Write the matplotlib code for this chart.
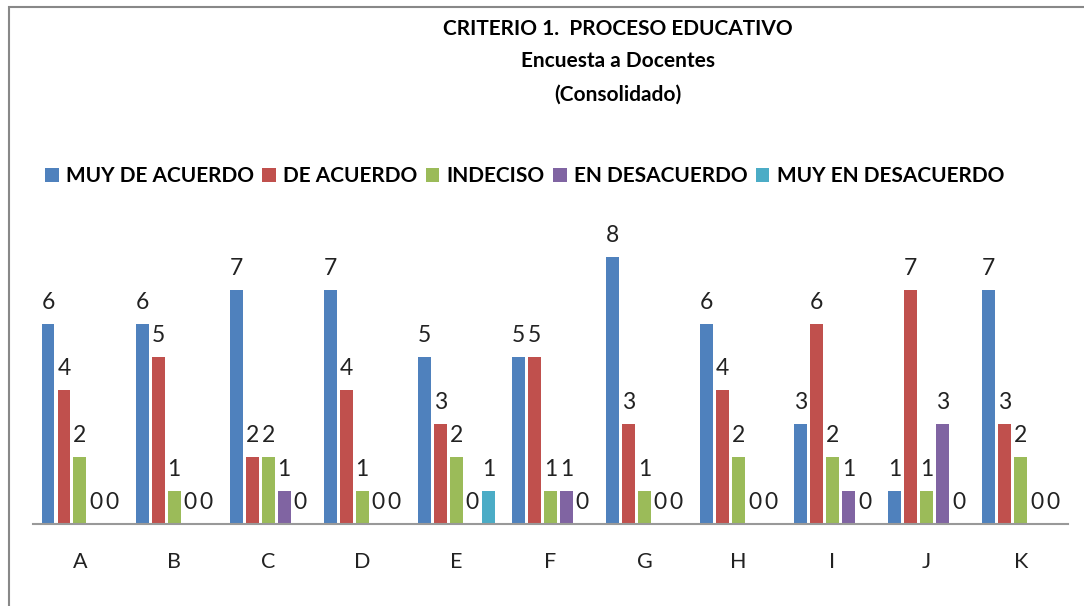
import numpy as np
import matplotlib
matplotlib.use("Agg")
import matplotlib.pyplot as plt
from matplotlib.patches import Rectangle

categories = ['A', 'B', 'C', 'D', 'E', 'F', 'G', 'H', 'I', 'J', 'K']
series_names = ['MUY DE ACUERDO', 'DE ACUERDO', 'INDECISO', 'EN DESACUERDO', 'MUY EN DESACUERDO']
muy_de_acuerdo = [6, 6, 7, 7, 5, 5, 8, 6, 3, 1, 7]
de_acuerdo = [4, 5, 2, 4, 3, 5, 3, 4, 6, 7, 3]
indeciso = [2, 1, 2, 1, 2, 1, 1, 2, 2, 1, 2]
en_desacuerdo = [0, 0, 1, 0, 0, 1, 0, 0, 1, 3, 0]
muy_en_desacuerdo = [0, 0, 0, 0, 1, 0, 0, 0, 0, 0, 0]
colors = ['#4F81BD', '#C0504D', '#9BBB59', '#8064A2', '#4BACC6']

plt.rcParams['font.family'] = ['Lato', 'DejaVu Sans']

fig = plt.figure(figsize=(10.84, 6.06), dpi=100)
fig.patches.append(Rectangle((9 / 1084, -0.1), 1.2, 1 - 7 / 606 + 0.1, transform=fig.transFigure,
                             fill=False, edgecolor='#888888', linewidth=1.5))

ax = fig.add_axes([0.0304, 0.1353, 0.9546, 0.4737])
x = np.arange(len(categories))
width = 0.138
step = 0.17
all_series = [muy_de_acuerdo, de_acuerdo, indeciso, en_desacuerdo, muy_en_desacuerdo]
handles = []
for i, (name, vals) in enumerate(zip(series_names, all_series)):
    offs = (i - 2) * step
    bars = ax.bar(x + offs, vals, width, color=colors[i], label=name, zorder=2)
    ax.bar_label(bars, labels=[str(v) for v in vals], padding=8, fontsize=16.5, color='#222222')
    handles.append(bars)

ax.set_xlim(-0.5, len(categories) - 0.5)
ax.set_ylim(0, 8.6)
ax.set_yticks([])
ax.set_xticks(x)
ax.set_xticklabels(categories, fontsize=15.5, color='#222222')
ax.tick_params(axis='x', length=0, pad=20)
for s in ['top', 'left', 'right']:
    ax.spines[s].set_visible(False)
ax.spines['bottom'].set_color('#999999')
ax.spines['bottom'].set_linewidth(1.5)

fig.text(0.570, 0.952, 'CRITERIO 1.  PROCESO EDUCATIVO', ha='center', va='center', fontsize=15, fontweight='bold')
fig.text(0.570, 0.899, 'Encuesta a Docentes', ha='center', va='center', fontsize=15, fontweight='bold')
fig.text(0.570, 0.843, '(Consolidado)', ha='center', va='center', fontsize=15, fontweight='bold')

leg = fig.legend(handles=handles, labels=series_names, loc='center', bbox_to_anchor=(0.484, 0.7096),
                 ncol=5, frameon=False, prop={'size': 15, 'weight': 'bold'},
                 handlelength=0.65, handleheight=0.65, handletextpad=0.35, columnspacing=0.4)

fig.savefig('out.png', dpi=100)
